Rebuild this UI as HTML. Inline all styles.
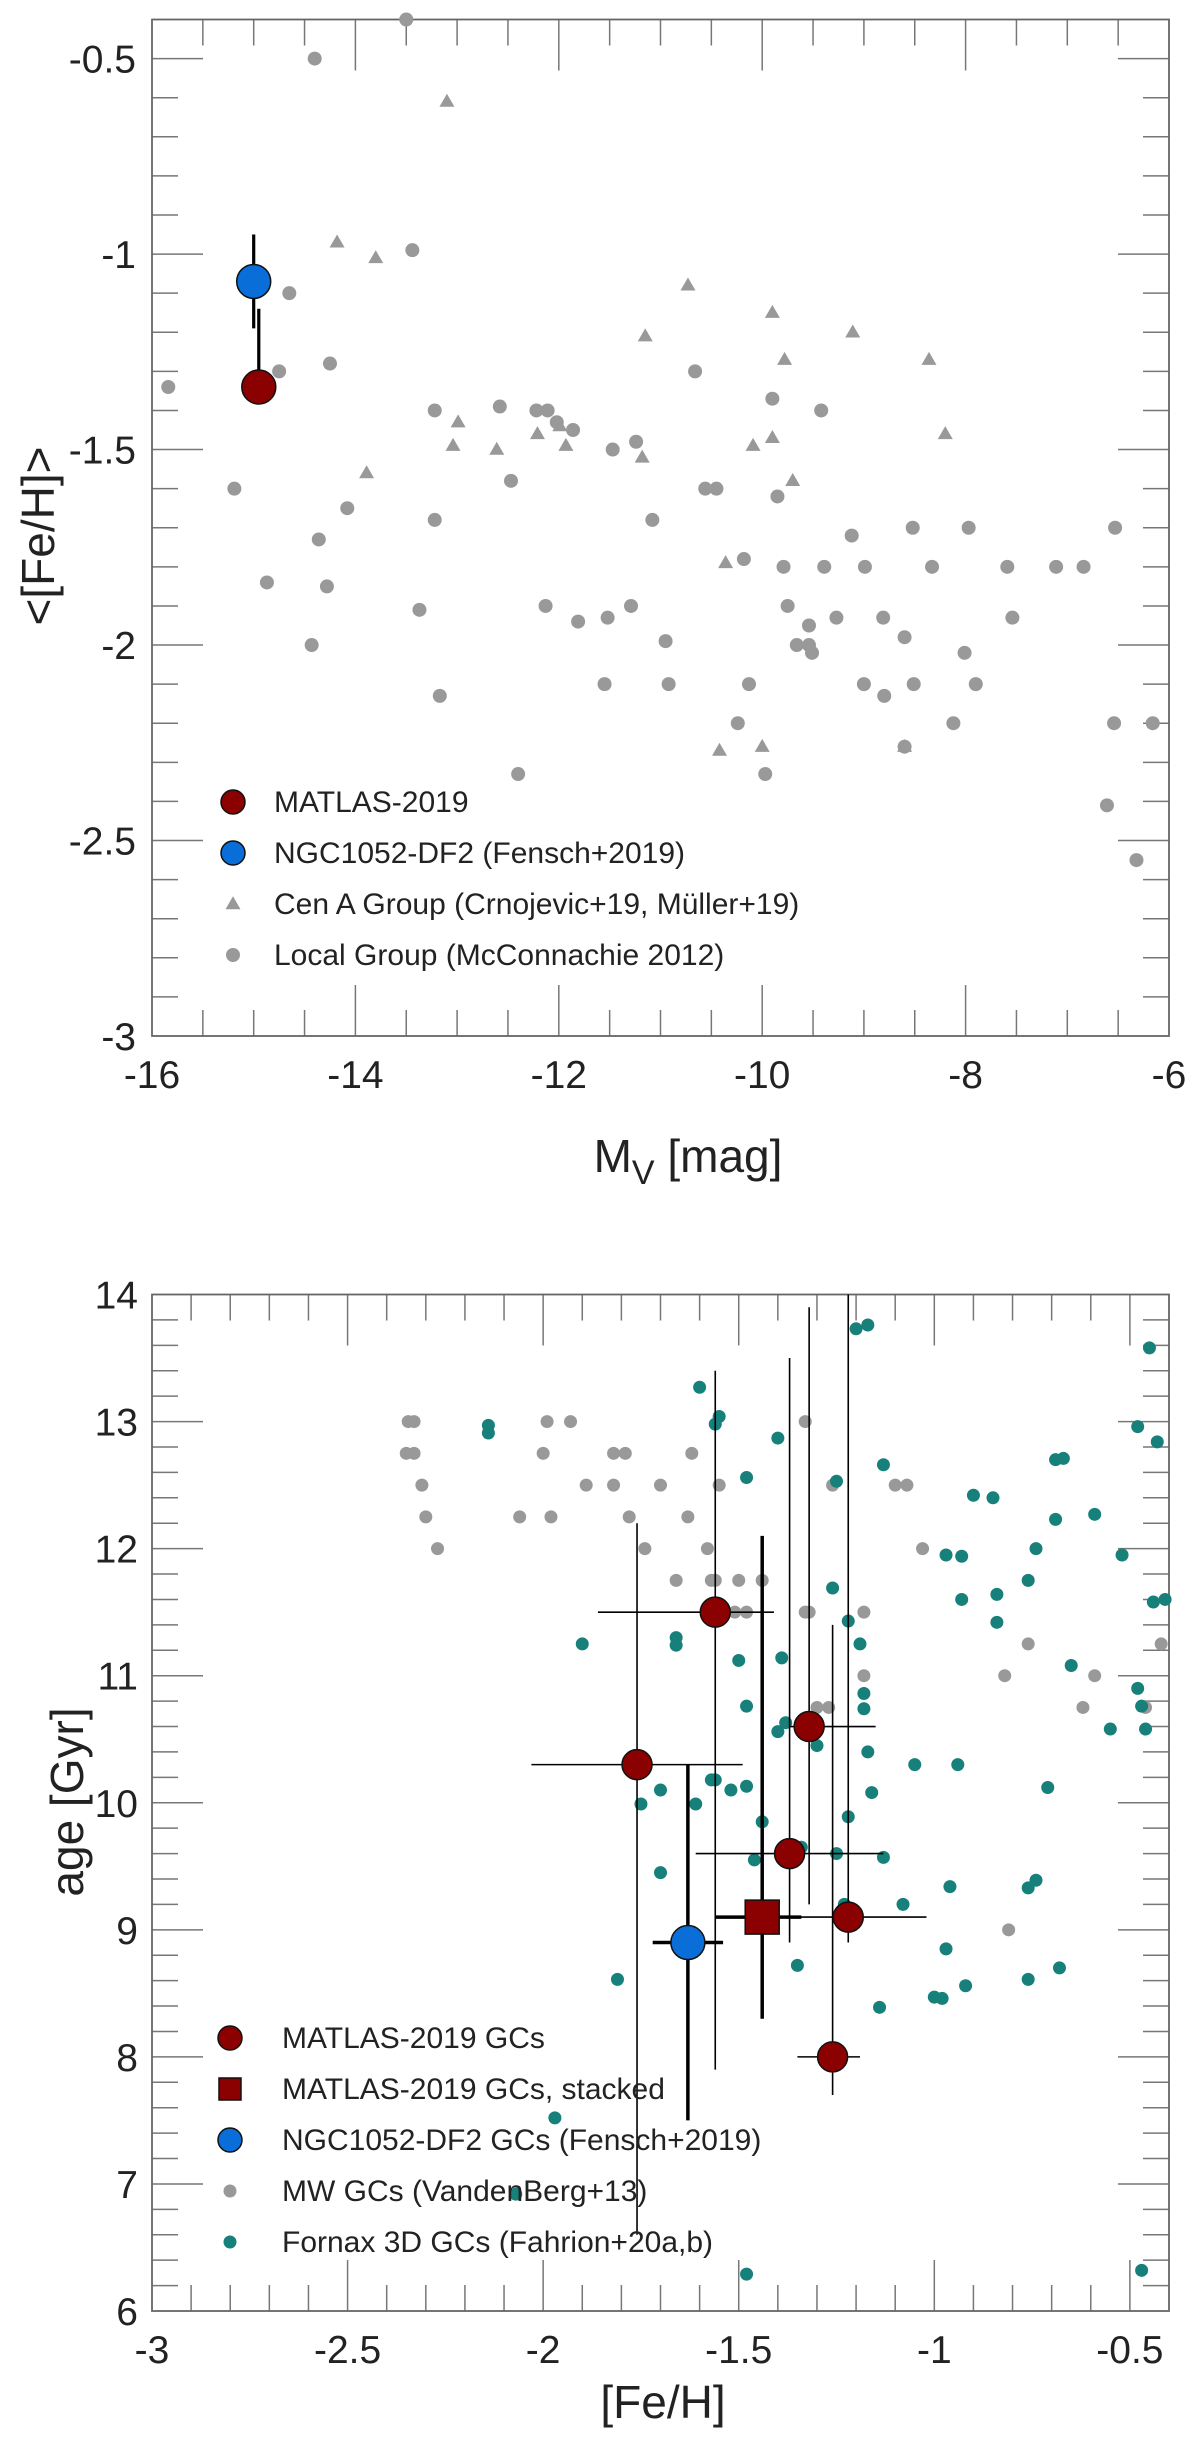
<!DOCTYPE html>
<html><head><meta charset="utf-8"><style>
html,body{margin:0;padding:0;background:#fff;}
svg{display:block;font-family:"Liberation Sans",sans-serif;}
</style></head><body>
<svg id="fig" width="1200" height="2440" viewBox="0 0 1200 2440" xmlns="http://www.w3.org/2000/svg">
<g id="top"></g>
<g id="bot"></g>
</svg>
<script>
// ===== Top panel data =====
const lgMv = [-13.50,-14.40,-13.44,-14.65,-15.84,-14.75,-14.25,-15.19,-13.22,-12.58,-14.08,-13.22,-14.36,-14.87,-14.28,-13.37,-14.43,-13.17,-12.47,-12.40,-12.22,-12.11,-12.02,-11.86,-12.13,-11.81,-11.47,-11.52,-11.55,-11.24,-11.29,-11.08,-10.95,-10.92,-10.66,-10.56,-10.45,-10.18,-10.13,-10.24,-9.97,-9.90,-9.85,-9.79,-9.75,-9.66,-9.54,-9.54,-9.51,-9.42,-9.39,-9.27,-9.12,-8.99,-9.00,-8.81,-8.80,-8.60,-8.60,-8.52,-8.51,-8.33,-8.12,-8.01,-7.97,-7.90,-7.59,-7.54,-7.11,-6.84,-6.61,-6.54,-6.53,-6.32,-6.16];
const lgFe = [-0.40,-0.50,-0.99,-1.10,-1.34,-1.30,-1.28,-1.60,-1.40,-1.39,-1.65,-1.68,-1.73,-1.84,-1.85,-1.91,-2.00,-2.13,-1.58,-2.33,-1.40,-1.40,-1.43,-1.45,-1.90,-1.94,-1.50,-1.93,-2.10,-1.48,-1.90,-1.68,-1.99,-2.10,-1.30,-1.60,-1.60,-1.78,-2.10,-2.20,-2.33,-1.37,-1.62,-1.80,-1.90,-2.00,-1.95,-2.00,-2.02,-1.40,-1.80,-1.93,-1.72,-1.80,-2.10,-1.93,-2.13,-1.98,-2.26,-1.70,-2.10,-1.80,-2.20,-2.02,-1.70,-2.10,-1.80,-1.93,-1.80,-1.80,-2.41,-2.20,-1.70,-2.55,-2.20];
const cenMv = [-13.10,-14.18,-13.80,-13.89,-12.99,-13.04,-12.61,-12.21,-11.99,-11.93,-11.18,-11.15,-10.73,-10.42,-10.36,-10.09,-10.00,-9.90,-9.90,-9.78,-9.70,-9.11,-8.60,-8.36,-8.20];
const cenFe = [-0.61,-0.97,-1.01,-1.56,-1.43,-1.49,-1.50,-1.46,-1.44,-1.49,-1.52,-1.21,-1.08,-2.27,-1.79,-1.49,-2.26,-1.15,-1.47,-1.27,-1.58,-1.20,-2.26,-1.27,-1.46];
const bigMv = [-14.95,-15.00];
const bigFe = [-1.34,-1.07];
const bigErrHi = [0.20,0.12];
const bigErrLo = [0.00,0.12];
const bigCol = ["#8b0000","#0a6ed8"];
const topXTicks = [-16,-14,-12,-10,-8,-6];
const topYTicks = [-3,-2.5,-2,-1.5,-1,-0.5];
const topYLabels = ["-3","-2.5","-2","-1.5","-1","-0.5"];
</script>
<script>
// ===== Bottom panel data =====
const mwFe = [-2.345,-2.33,-2.35,-2.33,-2.31,-2.30,-2.27,-2.00,-1.99,-1.93,-2.06,-1.98,-1.89,-1.82,-1.79,-1.82,-1.78,-1.74,-1.70,-1.66,-1.62,-1.63,-1.58,-1.57,-1.56,-1.55,-1.50,-1.51,-1.48,-1.44,-1.33,-1.33,-1.32,-1.30,-1.27,-1.26,-1.18,-1.18,-1.10,-1.07,-1.03,-0.76,-0.82,-0.81,-0.62,-0.59,-0.46,-0.42];
const mwAge = [13.0,13.0,12.75,12.75,12.5,12.25,12.0,12.75,13.0,13.0,12.25,12.25,12.5,12.75,12.75,12.5,12.25,12.0,12.5,11.75,12.75,12.25,12.0,11.75,11.75,12.5,11.75,11.5,11.5,11.75,13.0,11.5,11.5,10.75,10.75,12.5,11.5,11.0,12.5,12.5,12.0,11.25,11.0,9.0,10.75,11.0,10.75,11.25];
const fxFe = [-2.14,-2.14,-1.60,-1.55,-1.56,-1.40,-1.48,-1.25,-1.13,-1.20,-1.17,-0.45,-0.48,-0.43,-0.69,-0.67,-0.90,-0.85,-0.59,-0.69,-0.97,-0.93,-0.74,-0.52,-0.76,-0.84,-0.93,-0.44,-0.41,-0.84,-1.26,-1.22,-1.19,-1.90,-1.66,-1.66,-1.50,-1.39,-1.48,-1.18,-1.18,-0.65,-0.48,-0.47,-0.46,-0.55,-1.38,-1.40,-1.30,-1.17,-1.05,-0.94,-0.71,-1.70,-1.57,-1.56,-1.52,-1.48,-1.16,-1.75,-1.61,-1.44,-1.22,-1.46,-1.34,-1.25,-1.13,-1.70,-0.96,-0.76,-0.74,-1.08,-1.23,-0.97,-1.35,-0.68,-1.81,-0.76,-0.92,-1.00,-0.98,-1.14,-1.97,-2.07,-1.48,-0.47];
const fxAge = [12.97,12.91,13.27,13.04,12.98,12.87,12.56,12.53,12.66,13.73,13.76,13.58,12.96,12.84,12.70,12.71,12.42,12.40,12.27,12.23,11.95,11.94,12.00,11.95,11.75,11.64,11.60,11.58,11.60,11.42,11.69,11.43,11.25,11.25,11.30,11.24,11.12,11.14,10.76,10.86,10.74,11.08,10.90,10.76,10.58,10.58,10.63,10.56,10.45,10.40,10.30,10.30,10.12,10.10,10.18,10.18,10.10,10.13,10.08,9.99,9.99,9.85,9.89,9.55,9.65,9.60,9.57,9.45,9.34,9.33,9.39,9.20,9.20,8.85,8.72,8.70,8.61,8.61,8.56,8.47,8.46,8.39,7.52,6.92,6.29,6.32];
const gcFe = [-1.56,-1.76,-1.32,-1.37,-1.22,-1.26];
const gcAge = [11.5,10.3,10.6,9.6,9.1,8.0];
const gcXLo = [-1.86,-2.03,-1.37,-1.61,-1.56,-1.35];
const gcXHi = [-1.41,-1.49,-1.15,-1.13,-1.02,-1.19];
const gcYLo = [7.9,6.6,9.2,8.9,8.9,7.7];
const gcYHi = [13.4,12.2,13.9,13.5,14.0,11.4];
const stFe = [-1.44]; const stAge = [9.1];
const stXLo = [-1.56]; const stXHi = [-1.34]; const stYLo = [8.3]; const stYHi = [12.1];
const dfFe = [-1.63]; const dfAge = [8.9];
const dfXLo = [-1.72]; const dfXHi = [-1.54]; const dfYLo = [7.5]; const dfYHi = [10.3];
const botXTicks = [-3,-2.5,-2,-1.5,-1,-0.5];
const botXLabels = ["-3","-2.5","-2","-1.5","-1","-0.5"];
const botYTicks = [6,7,8,9,10,11,12,13,14];
</script>
<script>
const NS = "http://www.w3.org/2000/svg";
function mk(parent, tag, attrs, name) {
  const e = document.createElementNS(NS, tag);
  for (const k in attrs) e.setAttribute(k, attrs[k]);
  
  
  parent.appendChild(e);
  return e;
}
function txt(parent, x, y, s, size, anchor, name, extra) {
  const t = mk(parent, 'text', Object.assign({x: x, y: y, 'font-size': size, 'text-anchor': anchor, fill: '#222'}, extra || {}), name);
  t.textContent = s;
  return t;
}
const L = 152, R = 1169;

function frame(g, T, B, xmin, xmax, ymin, ymax, xMinor, xMajor, yMinor, yMajor) {
  const sx = v => L + (v - xmin) / (xmax - xmin) * (R - L);
  const sy = v => B - (v - ymin) / (ymax - ymin) * (B - T);
  const eps = 1e-6;
  for (let v = Math.ceil(xmin / xMinor - eps) * xMinor; v <= xmax + eps; v += xMinor) {
    const maj = Math.abs(v / xMajor - Math.round(v / xMajor)) < 1e-4;
    const len = maj ? 51 : 26, x = sx(v);
    if (x <= L + 1 || x >= R - 1) continue;
    mk(g, 'line', {x1: x, y1: B, x2: x, y2: B - len, stroke: '#777', 'stroke-width': 1.5}, 'x-tick');
    mk(g, 'line', {x1: x, y1: T, x2: x, y2: T + len, stroke: '#777', 'stroke-width': 1.5}, 'x-tick-top');
  }
  for (let v = Math.ceil(ymin / yMinor - eps) * yMinor; v <= ymax + eps; v += yMinor) {
    const maj = Math.abs(v / yMajor - Math.round(v / yMajor)) < 1e-4;
    const len = maj ? 51 : 26, y = sy(v);
    if (y <= T + 1 || y >= B - 1) continue;
    mk(g, 'line', {x1: L, y1: y, x2: L + len, y2: y, stroke: '#777', 'stroke-width': 1.5}, 'y-tick');
    mk(g, 'line', {x1: R, y1: y, x2: R - len, y2: y, stroke: '#777', 'stroke-width': 1.5}, 'y-tick-right');
  }
  mk(g, 'rect', {x: L, y: T, width: R - L, height: B - T, fill: 'none', stroke: '#666', 'stroke-width': 1.8}, 'plot-frame');
  return [sx, sy];
}
function circ(g, x, y, r, fill, stroke, name) {
  return mk(g, 'circle', {cx: x, cy: y, r: r, fill: fill, stroke: stroke || 'none', 'stroke-width': stroke ? 1.5 : 0}, name);
}
function tri(g, x, y, s, fill, name) {
  const h = s * 0.866;
  return mk(g, 'polygon', {points: `${x},${y - h * 0.6} ${x - s / 2},${y + h * 0.4} ${x + s / 2},${y + h * 0.4}`, fill: fill}, name);
}
function line(g, x1, y1, x2, y2, w, name) {
  return mk(g, 'line', {x1: x1, y1: y1, x2: x2, y2: y2, stroke: '#000', 'stroke-width': w}, name);
}

// ---------- top panel ----------
(function () {
  const g = document.getElementById('top');
  const T = 19.5, B = 1036;
  const [sx, sy] = frame(g, T, B, -16, -6, -3, -0.4, 0.5, 2, 0.1, 0.5);
  for (let i = 0; i < lgMv.length; i++) circ(g, sx(lgMv[i]), sy(lgFe[i]), 7, '#999', null, 'local-group-point');
  for (let i = 0; i < cenMv.length; i++) tri(g, sx(cenMv[i]), sy(cenFe[i]), 15, '#999', 'cen-a-point');
  for (let i = 0; i < bigMv.length; i++) {
    line(g, sx(bigMv[i]), sy(bigFe[i] + bigErrHi[i]), sx(bigMv[i]), sy(bigFe[i] - bigErrLo[i]), 3.2, 'error-bar');
  }
  for (let i = 0; i < bigMv.length; i++) circ(g, sx(bigMv[i]), sy(bigFe[i]), 17, bigCol[i], '#111', i === 0 ? 'matlas-2019-point' : 'ngc1052-df2-point');
  topXTicks.forEach(v => txt(g, sx(v), 1088, String(v), 39, 'middle', 'x-tick-label'));
  topYTicks.forEach((v, i) => txt(g, 136, sy(v) + 14, topYLabels[i], 39, 'end', 'y-tick-label'));
  const xt = txt(g, 688, 1172, 'M', 46, 'middle', 'x-axis-title');
  xt.innerHTML = 'M<tspan dy="12" font-size="34">V</tspan><tspan dy="-12"> [mag]</tspan>';
  txt(g, 0, 0, '<[Fe/H]>', 46, 'middle', 'y-axis-title', {transform: 'translate(54,536) rotate(-90)'});
  const lg = mk(g, 'g', {}, 'legend');
  circ(lg, 233, 802, 12, '#8b0000', '#111', 'legend-marker-matlas');
  txt(lg, 274, 812, 'MATLAS-2019', 30, 'start', 'legend-label-matlas');
  circ(lg, 233, 853, 12, '#0a6ed8', '#111', 'legend-marker-df2');
  txt(lg, 274, 863, 'NGC1052-DF2 (Fensch+2019)', 30, 'start', 'legend-label-df2');
  tri(lg, 233, 904, 15, '#999', 'legend-marker-cena');
  txt(lg, 274, 914, 'Cen A Group (Crnojevic+19, Müller+19)', 30, 'start', 'legend-label-cena');
  circ(lg, 233, 955, 7, '#999', null, 'legend-marker-local');
  txt(lg, 274, 965, 'Local Group (McConnachie 2012)', 30, 'start', 'legend-label-local');
})();

// ---------- bottom panel ----------
(function () {
  const g = document.getElementById('bot');
  const T = 1294.5, B = 2311;
  const [sx, sy] = frame(g, T, B, -3, -0.4, 6, 14, 0.1, 0.5, 0.2, 1);
  for (let i = 0; i < mwFe.length; i++) circ(g, sx(mwFe[i]), sy(mwAge[i]), 6.5, '#999', null, 'mw-gc-point');
  for (let i = 0; i < fxFe.length; i++) circ(g, sx(fxFe[i]), sy(fxAge[i]), 6.5, '#17807b', null, 'fornax-gc-point');
  for (let i = 0; i < gcFe.length; i++) {
    line(g, sx(gcXLo[i]), sy(gcAge[i]), sx(gcXHi[i]), sy(gcAge[i]), 1.6, 'gc-xerr');
    line(g, sx(gcFe[i]), sy(gcYLo[i]), sx(gcFe[i]), sy(gcYHi[i]), 1.6, 'gc-yerr');
  }
  line(g, sx(stXLo[0]), sy(stAge[0]), sx(stXHi[0]), sy(stAge[0]), 3.5, 'stacked-xerr');
  line(g, sx(stFe[0]), sy(stYLo[0]), sx(stFe[0]), sy(stYHi[0]), 3.5, 'stacked-yerr');
  line(g, sx(dfXLo[0]), sy(dfAge[0]), sx(dfXHi[0]), sy(dfAge[0]), 3.5, 'df2-xerr');
  line(g, sx(dfFe[0]), sy(dfYLo[0]), sx(dfFe[0]), sy(dfYHi[0]), 3.5, 'df2-yerr');
  for (let i = 0; i < gcFe.length; i++) circ(g, sx(gcFe[i]), sy(gcAge[i]), 15, '#8b0000', '#111', 'matlas-gc-point');
  mk(g, 'rect', {x: sx(stFe[0]) - 17, y: sy(stAge[0]) - 17, width: 34, height: 34, fill: '#8b0000', stroke: '#111', 'stroke-width': 1.5}, 'matlas-stacked-point');
  circ(g, sx(dfFe[0]), sy(dfAge[0]), 17, '#0a6ed8', '#111', 'df2-gc-point');
  botXTicks.forEach((v, i) => txt(g, sx(v), 2363, botXLabels[i], 39, 'middle', 'x-tick-label'));
  botYTicks.forEach(v => txt(g, 138, sy(v) + 14, String(v), 39, 'end', 'y-tick-label'));
  txt(g, 663, 2418, '[Fe/H]', 46, 'middle', 'x-axis-title');
  txt(g, 0, 0, 'age [Gyr]', 46, 'middle', 'y-axis-title', {transform: 'translate(83,1802) rotate(-90)'});
  const lg = mk(g, 'g', {}, 'legend');
  circ(lg, 230, 2038, 12, '#8b0000', '#111', 'legend-marker-matlas-gc');
  txt(lg, 282, 2048, 'MATLAS-2019 GCs', 30, 'start', 'legend-label-matlas-gc');
  mk(lg, 'rect', {x: 219, y: 2078, width: 22, height: 22, fill: '#8b0000', stroke: '#111', 'stroke-width': 1.5}, 'legend-marker-stacked');
  txt(lg, 282, 2099, 'MATLAS-2019 GCs, stacked', 30, 'start', 'legend-label-stacked');
  circ(lg, 230, 2140, 12, '#0a6ed8', '#111', 'legend-marker-df2-gc');
  txt(lg, 282, 2150, 'NGC1052-DF2 GCs (Fensch+2019)', 30, 'start', 'legend-label-df2-gc');
  circ(lg, 230, 2191, 6.5, '#999', null, 'legend-marker-mw');
  txt(lg, 282, 2201, 'MW GCs (VandenBerg+13)', 30, 'start', 'legend-label-mw');
  circ(lg, 230, 2242, 6.5, '#17807b', null, 'legend-marker-fornax');
  txt(lg, 282, 2252, 'Fornax 3D GCs (Fahrion+20a,b)', 30, 'start', 'legend-label-fornax');
})();
</script>
</body></html>
